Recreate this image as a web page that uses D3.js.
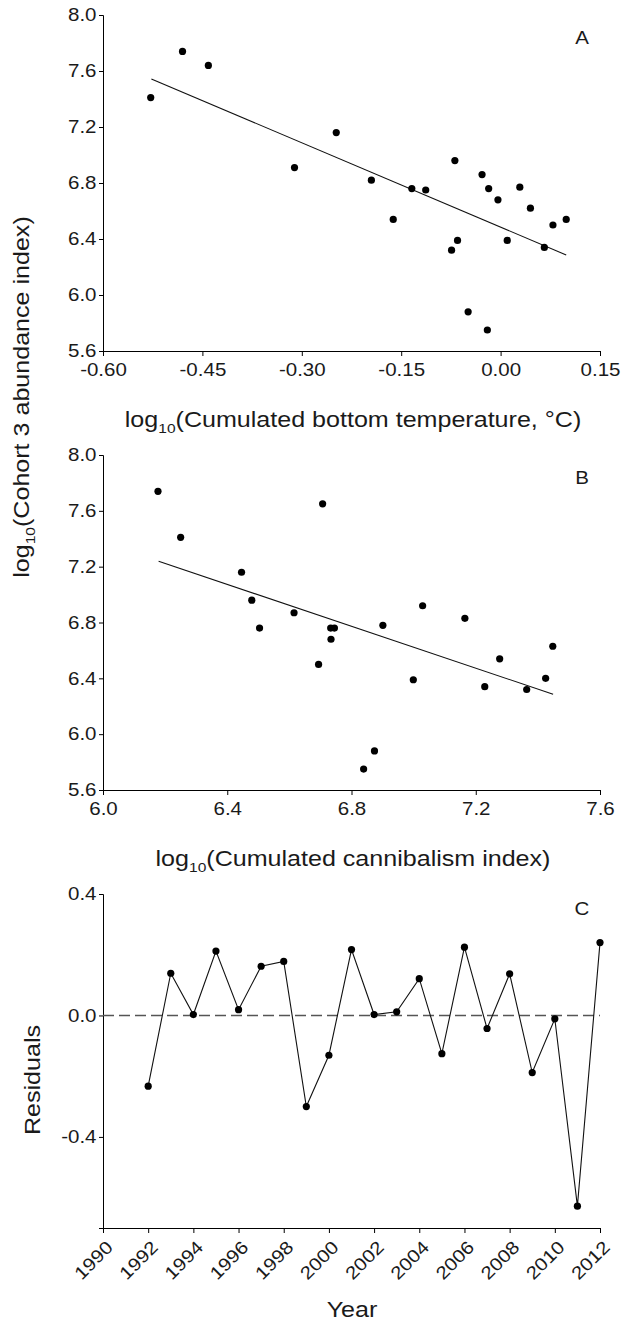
<!DOCTYPE html>
<html>
<head>
<meta charset="utf-8">
<script src="https://cdn.jsdelivr.net/npm/d3@7"></script>
<style>
  body { margin: 0; background: #fff; }
  svg { display: block; }
  .axis path, .axis line { stroke: #000; stroke-width: 1; }
  text { font-family: "Liberation Sans", Arial, sans-serif; fill: #1a1a1a; }
</style>
</head>
<body>
<div id="chart"></div>
<script>

// panel A : cumulated bottom temperature vs cohort 3 abundance
const tempX = [-0.528, -0.480, -0.441, -0.311, -0.248, -0.195, -0.162, -0.134, -0.113, -0.069, -0.065, -0.074,
               -0.049, -0.028, -0.018, -0.020, -0.004, 0.010, 0.029, 0.045, 0.066, 0.079, 0.099];
const abundA = [7.41, 7.74, 7.64, 6.91, 7.16, 6.82, 6.54, 6.76, 6.75, 6.96, 6.39, 6.32,
                5.88, 6.86, 6.76, 5.75, 6.68, 6.39, 6.77, 6.62, 6.34, 6.50, 6.54];
const fitAX = [-0.527, 0.099];
const fitAY = [7.543, 6.286];
const ticksAX = [-0.60, -0.45, -0.30, -0.15, 0.00, 0.15];

// panel B : cumulated cannibalism index vs cohort 3 abundance
const cannX = [6.177, 6.250, 6.707, 6.446, 6.479, 6.504, 6.615, 6.694, 6.733, 6.745, 6.734,
               6.901, 7.029, 6.999, 7.165, 7.277, 7.229, 7.364, 7.425, 7.448, 6.839, 6.874];
const abundB = [7.74, 7.41, 7.65, 7.16, 6.96, 6.76, 6.87, 6.50, 6.76, 6.76, 6.68,
                6.78, 6.92, 6.39, 6.83, 6.54, 6.34, 6.32, 6.40, 6.63, 5.75, 5.88];
const fitBX = [6.179, 7.449];
const fitBY = [7.239, 6.286];
const ticksBX = [6.0, 6.4, 6.8, 7.2, 7.6];

const ticksAbund = [5.6, 6.0, 6.4, 6.8, 7.2, 7.6, 8.0];

// panel C : residuals by year
const years = [1992, 1993, 1994, 1995, 1996, 1997, 1998, 1999, 2000, 2001, 2002,
               2003, 2004, 2005, 2006, 2007, 2008, 2009, 2010, 2011, 2012];
const resid = [-0.233, 0.139, 0.003, 0.212, 0.019, 0.162, 0.178, -0.300, -0.131, 0.217, 0.003,
               0.012, 0.121, -0.126, 0.225, -0.043, 0.137, -0.188, -0.011, -0.628, 0.240];
const ticksYear = [1990, 1992, 1994, 1996, 1998, 2000, 2002, 2004, 2006, 2008, 2010, 2012];
const ticksResid = [-0.4, 0.0, 0.4];

const W = 623, H = 1334;
const S = 1.14;          // text in the figure is a bit wider than plain Arial
const left = 103, right = 600;

const svg = d3.select("#chart").append("svg")
    .attr("width", W)
    .attr("height", H);

// plain hyphen instead of d3's unicode minus
function fmt(spec) {
    let f = d3.format(spec);
    return d => f(d).replace("\u2212", "-");
}

// helper: text with optional log10 subscript
function addText(str, x, y, size, rot, anchor) {
    let t = svg.append("text")
        .attr("transform", "translate(" + x + "," + y + ") rotate(" + rot + ") scale(" + S + ",1)")
        .attr("text-anchor", anchor || "middle")
        .style("font-size", size + "px");
    if (str.startsWith("log10")) {
        t.append("tspan").text("log");
        t.append("tspan").text("10").style("font-size", (size * 0.62) + "px").attr("dy", size * 0.28);
        t.append("tspan").text(str.slice(5)).attr("dy", -size * 0.28);
    } else {
        t.text(str);
    }
    return t;
}

function styleTicks(g, isY) {
    g.selectAll("text").style("font-size", "18px");
    if (isY) {
        g.selectAll(".tick text").attr("x", -6.5 / S).attr("transform", "scale(" + S + ",1)");
    } else {
        g.selectAll(".tick text").attr("transform", "scale(" + S + ",1)");
    }
}

function scatterPanel(xs, ys, fx, fy, xDom, xTicks, xFmt, top, bottom, letter) {
    let x = d3.scaleLinear().domain(xDom).range([left, right]);
    let y = d3.scaleLinear().domain([5.6, 8.0]).range([bottom, top]);

    let gx = svg.append("g")
        .attr("class", "axis")
        .attr("transform", "translate(0," + bottom + ")")
        .call(d3.axisBottom(x).tickValues(xTicks).tickFormat(fmt(xFmt)).tickSizeOuter(0).tickSize(5).tickPadding(7));
    styleTicks(gx, false);

    let gy = svg.append("g")
        .attr("class", "axis")
        .attr("transform", "translate(" + left + ",0)")
        .call(d3.axisLeft(y).tickValues(ticksAbund).tickFormat(fmt(".1f")).tickSizeOuter(0).tickSize(4));
    styleTicks(gy, true);

    // regression line
    svg.append("line")
        .attr("x1", x(fx[0])).attr("y1", y(fy[0]))
        .attr("x2", x(fx[1])).attr("y2", y(fy[1]))
        .attr("stroke", "#111")
        .attr("stroke-width", 1.1);

    svg.append("g").selectAll("circle")
        .data(xs)
        .enter()
        .append("circle")
        .attr("cx", d => x(d))
        .attr("cy", (d, i) => y(ys[i]))
        .attr("r", 3.6)
        .attr("fill", "#000");

    addText(letter, 582, top + 29, 18, 0);
}

scatterPanel(tempX, abundA, fitAX, fitAY, [-0.60, 0.15], ticksAX, ".2f", 15, 351, "A");
addText("log10(Cumulated bottom temperature, °C)", 353, 427, 22, 0);

scatterPanel(cannX, abundB, fitBX, fitBY, [6.0, 7.6], ticksBX, ".1f", 455, 790, "B");
addText("log10(Cumulated cannibalism index)", 353, 866, 22, 0);

addText("log10(Cohort 3 abundance index)", 29, 397, 22, -90);

// residuals panel
let xC = d3.scaleLinear().domain([1990, 2012]).range([left, right]);
let yC = d3.scaleLinear().domain([-0.7, 0.4]).range([1228, 894]);

let gxC = svg.append("g")
    .attr("class", "axis")
    .attr("transform", "translate(0,1228)")
    .call(d3.axisBottom(xC).tickValues(ticksYear).tickFormat(d3.format("d")).tickSizeOuter(0).tickSize(5));
gxC.selectAll(".tick text")
    .style("font-size", "18px")
    .attr("x", 0).attr("y", 0).attr("dy", "0.35em")
    .attr("text-anchor", "end")
    .attr("transform", "translate(6,16) rotate(-45) scale(" + S + ",1)");

let gyC = svg.append("g")
    .attr("class", "axis")
    .attr("transform", "translate(" + left + ",0)")
    .call(d3.axisLeft(yC).tickValues(ticksResid).tickFormat(fmt(".1f")).tickSizeOuter(0).tickSize(4));
styleTicks(gyC, true);

// zero reference
svg.append("line")
    .attr("x1", xC(1990)).attr("x2", xC(2012))
    .attr("y1", yC(0)).attr("y2", yC(0))
    .attr("stroke", "#555")
    .attr("stroke-width", 1.5)
    .attr("stroke-dasharray", "11,5");

let line = d3.line()
    .x((d, i) => xC(years[i]))
    .y(d => yC(d));

svg.append("path")
    .datum(resid)
    .attr("d", line)
    .attr("fill", "none")
    .attr("stroke", "#111")
    .attr("stroke-width", 1.1);

svg.append("g").selectAll("circle")
    .data(resid)
    .enter()
    .append("circle")
    .attr("cx", (d, i) => xC(years[i]))
    .attr("cy", d => yC(d))
    .attr("r", 3.6)
    .attr("fill", "#000");

addText("C", 582, 915, 18, 0);
addText("Residuals", 40, 1080, 22, -90);
addText("Year", 352, 1317, 22, 0);

</script>
</body>
</html>
